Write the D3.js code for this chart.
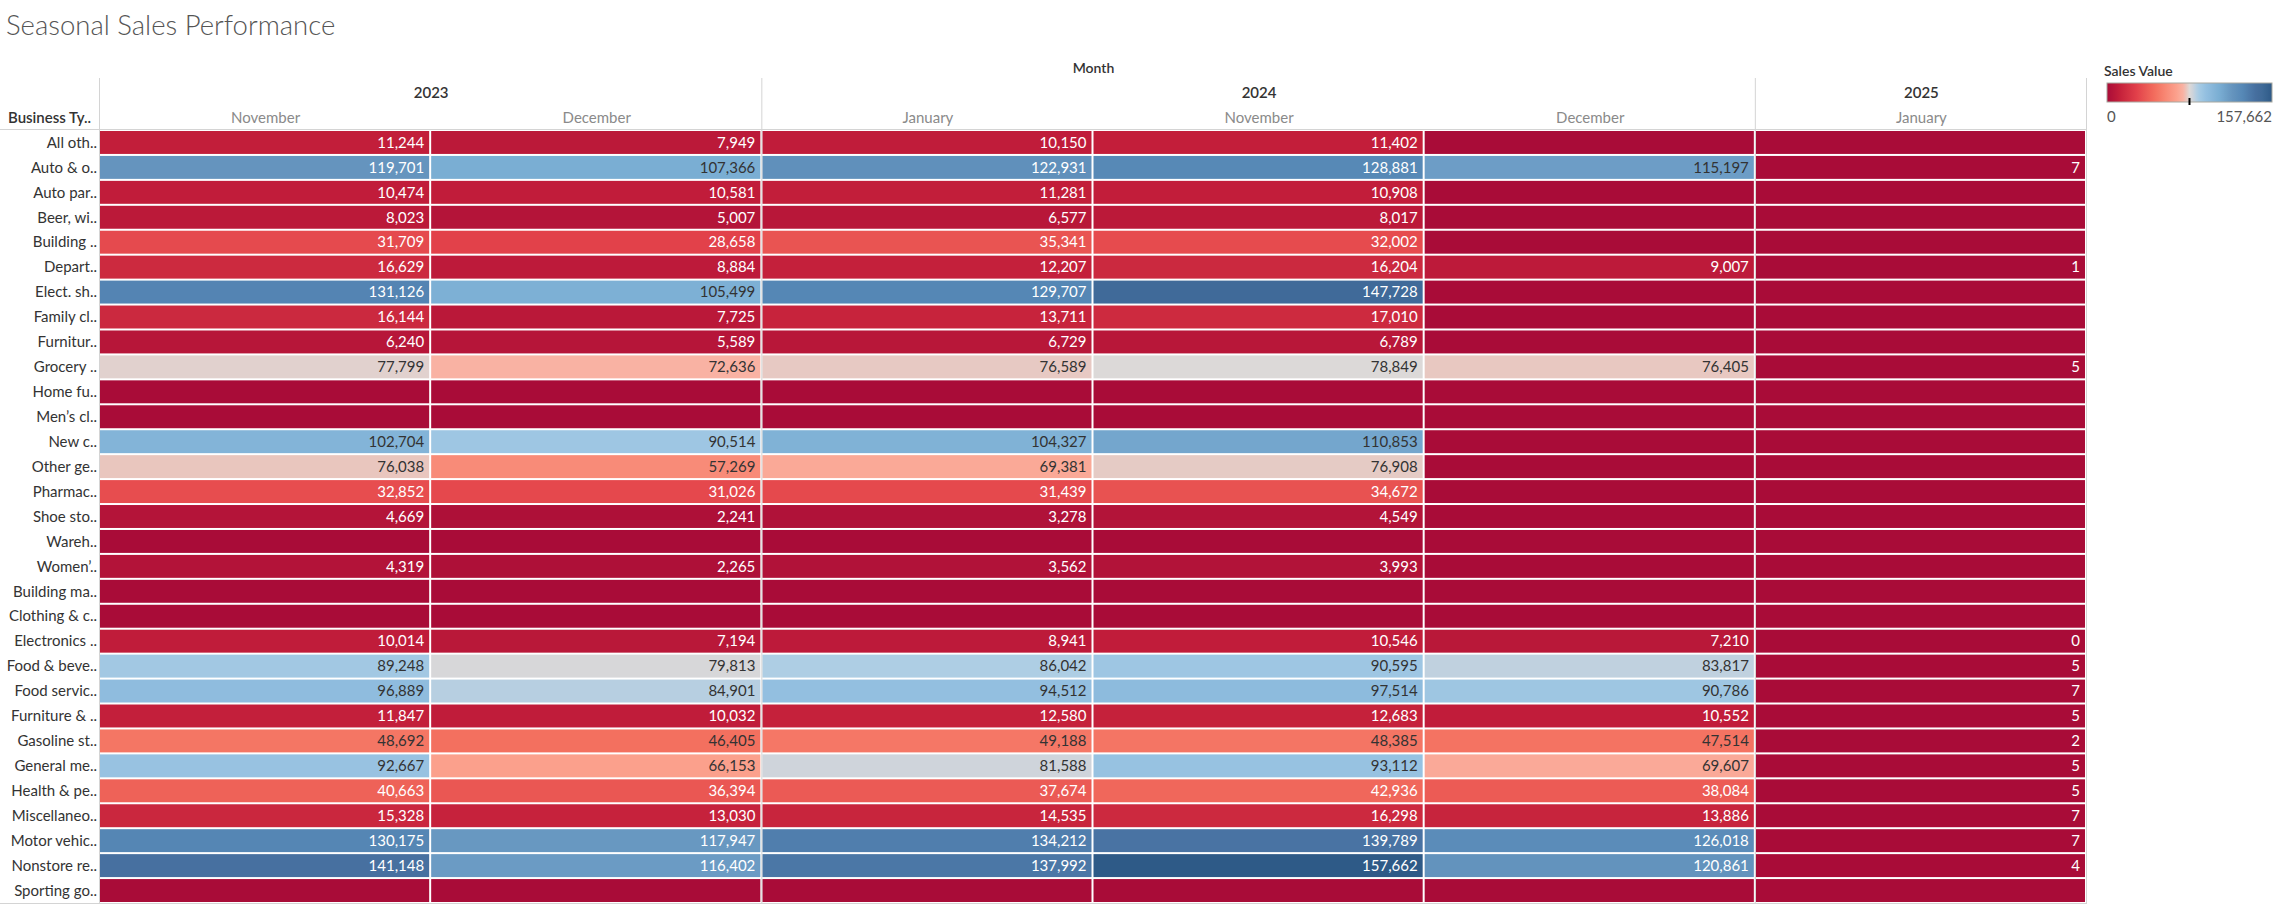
<!DOCTYPE html>
<html>
<head>
<meta charset="utf-8">
<script src="https://cdn.jsdelivr.net/npm/d3@7"></script>
<style>
  body { margin: 0; background: #fff; }
  svg { display: block; font-family: Lato, "Open Sans", sans-serif; }
</style>
</head>
<body>
<svg id="chart" width="2278" height="905"></svg>
<script>
// row labels, as truncated in the view
const businessTypes = [
    "All oth..", "Auto & o..", "Auto par..", "Beer, wi..", "Building ..", "Depart..",
    "Elect. sh..", "Family cl..", "Furnitur..", "Grocery ..", "Home fu..", "Men’s cl..",
    "New c..", "Other ge..", "Pharmac..", "Shoe sto..", "Wareh..", "Women’..",
    "Building ma..", "Clothing & c..", "Electronics ..", "Food & beve..", "Food servic..",
    "Furniture & ..", "Gasoline st..", "General me..", "Health & pe..", "Miscellaneo..",
    "Motor vehic..", "Nonstore re..", "Sporting go.."
];

const years = ["2023", "2024", "2025"];
const columnYears = ["2023", "2023", "2024", "2024", "2024", "2025"];
const columnMonths = ["November", "December", "January", "November", "December", "January"];

const nov2023 = [11244, 119701, 10474, 8023, 31709, 16629, 131126, 16144, 6240, 77799, null, null,
    102704, 76038, 32852, 4669, null, 4319, null, null, 10014, 89248, 96889, 11847, 48692,
    92667, 40663, 15328, 130175, 141148, null];
const dec2023 = [7949, 107366, 10581, 5007, 28658, 8884, 105499, 7725, 5589, 72636, null, null,
    90514, 57269, 31026, 2241, null, 2265, null, null, 7194, 79813, 84901, 10032, 46405,
    66153, 36394, 13030, 117947, 116402, null];
const jan2024 = [10150, 122931, 11281, 6577, 35341, 12207, 129707, 13711, 6729, 76589, null, null,
    104327, 69381, 31439, 3278, null, 3562, null, null, 8941, 86042, 94512, 12580, 49188,
    81588, 37674, 14535, 134212, 137992, null];
const nov2024 = [11402, 128881, 10908, 8017, 32002, 16204, 147728, 17010, 6789, 78849, null, null,
    110853, 76908, 34672, 4549, null, 3993, null, null, 10546, 90595, 97514, 12683, 48385,
    93112, 42936, 16298, 139789, 157662, null];
const dec2024 = [null, 115197, null, null, null, 9007, null, null, null, 76405, null, null,
    null, null, null, null, null, null, null, null, 7210, 83817, 90786, 10552, 47514,
    69607, 38084, 13886, 126018, 120861, null];
const jan2025 = [null, 7, null, null, null, 1, null, null, null, 5, null, null,
    null, null, null, null, null, null, null, null, 0, 5, 7, 5, 2,
    5, 5, 7, 7, 4, null];

const columnValues = [nov2023, dec2023, jan2024, nov2024, dec2024, jan2025];

// red-blue diverging palette, stops as fractions of the max
const paletteStops = [0, 0.07, 0.18, 0.29, 0.42, 0.46, 0.49, 0.5, 0.52, 0.55, 0.6, 0.68, 0.76, 0.82, 0.9, 0.94, 1];
const paletteColors = ["#a90c38", "#c21d3a", "#e2404a", "#f36e5e", "#fba08c", "#f9b1a2", "#e3cdc8",
    "#dcd9d8", "#cdd3db", "#a9cde5", "#93bfe0", "#7aaed3", "#6594be", "#5688b6", "#466f9f",
    "#3f6a98", "#2e5a87"];

const svg = d3.select("#chart");

const gridLeft = 100, gridRight = 2087, gridTop = 130, gridBottom = 903, headTop = 78;
const lineColor = "#d4d4d4";

const cols = d3.range(columnMonths.length);
const x = d3.scaleBand().domain(cols).range([gridLeft, gridRight]);
const y = d3.scaleBand().domain(businessTypes).range([gridTop, gridBottom]);

const maxVal = d3.max(columnValues.flat());
const color = d3.scaleLinear()
    .domain(paletteStops.map(s => s * maxVal))
    .range(paletteColors)
    .interpolate(d3.interpolateLab)
    .clamp(true);

const fmt = d3.format(",");

const luminance = (c) => {
    const { r, g, b } = d3.rgb(c);
    const lin = (v) => {
        v /= 255;
        return v <= 0.03928 ? v / 12.92 : Math.pow((v + 0.055) / 1.055, 2.4);
    };
    return 0.2126 * lin(r) + 0.7152 * lin(g) + 0.0722 * lin(b);
};

// white text on dark cells; blues switch a little earlier than reds
const labelColor = (v) => {
    const limit = v > maxVal / 2 ? 0.314 : 0.3;
    return luminance(color(v)) < limit ? "#fff" : "#333";
};

// title
svg.append("text")
    .attr("x", 6).attr("y", 35)
    .attr("font-size", 27.5).attr("font-weight", 300)
    .attr("fill", "#555")
    .text("Seasonal Sales Performance");

// cells
const cells = [];
cols.forEach(c => {
    businessTypes.forEach((b, i) => {
        cells.push({ col: c, type: b, value: columnValues[c][i] });
    });
});

const g = svg.append("g");

g.selectAll("rect.cell")
    .data(cells)
    .join("rect")
    .attr("class", "cell")
    .attr("x", d => x(d.col))
    .attr("y", d => y(d.type) + 1)
    .attr("width", x.bandwidth() - 2)
    .attr("height", y.bandwidth() - 2)
    .attr("fill", d => color(d.value == null ? 0 : d.value));

g.selectAll("text.val")
    .data(cells.filter(d => d.value != null))
    .join("text")
    .attr("class", "val")
    .attr("x", d => x(d.col) + x.bandwidth() - 7)
    .attr("y", d => y(d.type) + y.bandwidth() / 2)
    .attr("dy", "0.35em")
    .attr("text-anchor", "end")
    .attr("font-size", 15)
    .attr("fill", d => labelColor(d.value))
    .text(d => fmt(d.value));

// row labels
svg.append("g").selectAll("text")
    .data(businessTypes)
    .join("text")
    .attr("x", 97)
    .attr("y", d => y(d) + y.bandwidth() / 2)
    .attr("dy", "0.35em")
    .attr("text-anchor", "end")
    .attr("font-size", 15)
    .attr("fill", "#333")
    .text(d => d);

// headers
svg.append("text")
    .attr("x", (gridLeft + gridRight) / 2).attr("y", 68).attr("dy", "0.35em")
    .attr("text-anchor", "middle")
    .attr("font-size", 14).attr("font-weight", 600).attr("fill", "#333")
    .text("Month");

svg.append("g").selectAll("text")
    .data(years)
    .join("text")
    .attr("x", yr => {
        const idx = cols.filter(c => columnYears[c] === yr);
        return (x(idx[0]) + x(idx[idx.length - 1]) + x.bandwidth()) / 2;
    })
    .attr("y", 93).attr("dy", "0.35em")
    .attr("text-anchor", "middle")
    .attr("font-size", 15).attr("font-weight", 600).attr("fill", "#333")
    .text(d => d);

svg.append("g").selectAll("text")
    .data(cols)
    .join("text")
    .attr("x", c => x(c) + x.bandwidth() / 2)
    .attr("y", 118).attr("dy", "0.35em")
    .attr("text-anchor", "middle")
    .attr("font-size", 15).attr("fill", "#8a8a8a")
    .text(c => columnMonths[c]);

svg.append("text")
    .attr("x", 8).attr("y", 118).attr("dy", "0.35em")
    .attr("font-size", 15).attr("font-weight", 600).attr("fill", "#333")
    .text("Business Ty..");

// grid lines
const vLines = [gridLeft, gridRight].concat(cols.filter(c => c > 0 && columnYears[c] !== columnYears[c - 1]).map(c => x(c)));
svg.append("g").selectAll("line")
    .data(vLines)
    .join("line")
    .attr("x1", d => d - 0.5).attr("x2", d => d - 0.5)
    .attr("y1", headTop).attr("y2", gridBottom)
    .attr("stroke", lineColor).attr("stroke-width", 1);

svg.append("g").selectAll("line")
    .data([gridTop - 0.5, gridBottom + 0.5])
    .join("line")
    .attr("x1", 0).attr("x2", gridRight)
    .attr("y1", d => d).attr("y2", d => d)
    .attr("stroke", lineColor).attr("stroke-width", 1);

// legend
const legX = 2107, legW = 165, legY = 83, legH = 19;
const defs = svg.append("defs");
const grad = defs.append("linearGradient").attr("id", "legGrad");
d3.range(0, 1.0001, 0.02).forEach(t => {
    grad.append("stop").attr("offset", t).attr("stop-color", color(t * maxVal));
});

svg.append("text")
    .attr("x", legX - 3).attr("y", 71).attr("dy", "0.35em")
    .attr("font-size", 14).attr("font-weight", 600).attr("fill", "#333")
    .text("Sales Value");

svg.append("rect")
    .attr("x", legX).attr("y", legY)
    .attr("width", legW).attr("height", legH)
    .attr("fill", "url(#legGrad)")
    .attr("stroke", "#a8a8a0").attr("stroke-width", 1);

const legScale = d3.scaleLinear().domain([0, maxVal]).range([legX, legX + legW]);
svg.append("line")
    .attr("x1", legScale(maxVal / 2)).attr("x2", legScale(maxVal / 2))
    .attr("y1", legY + legH - 4).attr("y2", legY + legH + 3)
    .attr("stroke", "#000").attr("stroke-width", 2);

svg.append("text")
    .attr("x", legX).attr("y", 117).attr("dy", "0.35em")
    .attr("font-size", 15).attr("fill", "#555")
    .text(fmt(0));
svg.append("text")
    .attr("x", legX + legW).attr("y", 117).attr("dy", "0.35em")
    .attr("text-anchor", "end")
    .attr("font-size", 15).attr("fill", "#555")
    .text(fmt(maxVal));
</script>
</body>
</html>
